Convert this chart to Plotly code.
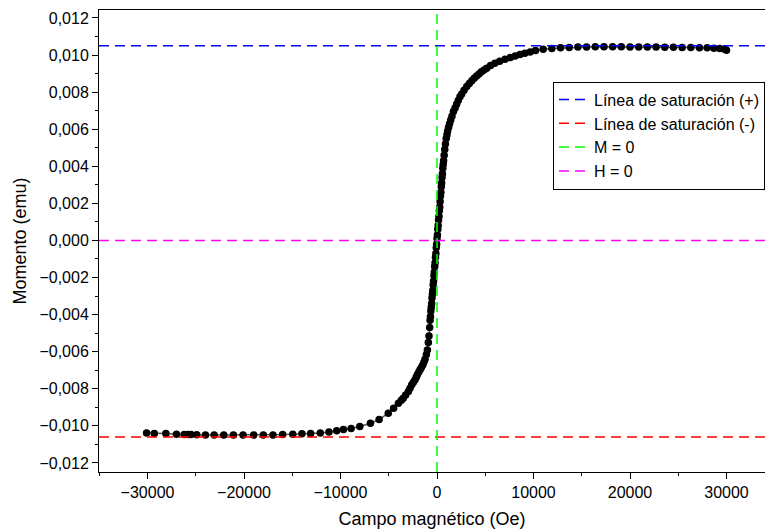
import plotly.graph_objects as go

# Magnetic field (Oe) and measured moment (emu)
campo = [
    -30100, -29300, -28100, -27000, -26200, -25800, -25500, -24900, -24000, -23100,
    -22100, -21100, -20100, -19000, -18000, -17000, -16000, -14950, -14000, -13100,
    -12100, -11200, -10400, -9700, -8900, -8000, -6900, -6000, -5050, -4500,
    -4000, -3700, -3500, -3250, -2970, -2800, -2620, -2450, -2280, -2150,
    -2040, -1900, -1760, -1620, -1480, -1360, -1240, -1100, -1000, -900,
    -830, -760,
    -720, -680, -640, -600, -560, -520, -480, -440, -400, -360,
    -320, -280, -240, -200, -160, -120, -80, -40, 0, 40,
    80, 120, 160, 200, 240, 280, 320, 360, 400, 440,
    480, 520, 560, 600, 640, 680,
    740, 800, 870, 950, 1030, 1100, 1200, 1300, 1420, 1550,
    1700, 1870, 2030, 2200, 2380, 2560, 2800, 3080, 3350, 3600,
    3850, 4100, 4350, 4600, 4870, 5150, 5550, 6000, 6500, 7050,
    7600, 8100, 8600, 9100, 9650, 10200, 11000, 11900, 12800, 13700,
    14600, 15500, 16400, 17300, 18200, 19100, 20000, 20900, 21800, 22700,
    23600, 24500, 25400, 26300, 27200, 28000, 28700, 29300, 29800, 30000,
]
momento = [
    -0.01038, -0.01041, -0.01042, -0.01045, -0.01047, -0.01047, -0.01047, -0.01048, -0.01050, -0.01050,
    -0.01050, -0.01050, -0.01050, -0.01050, -0.01050, -0.01049, -0.01047, -0.01045, -0.01043, -0.01041,
    -0.01038, -0.01033, -0.01027, -0.01020, -0.01014, -0.01004, -0.00986, -0.00966, -0.00932, -0.00905,
    -0.00878, -0.00862, -0.00851, -0.00833, -0.00815, -0.00797, -0.00779, -0.00765, -0.00752, -0.00738,
    -0.00725, -0.00711, -0.00698, -0.00685, -0.00672, -0.00657, -0.00641, -0.00615, -0.00591, -0.00550,
    -0.00515, -0.00470,
    -0.00430, -0.00410, -0.00380, -0.00360, -0.00340, -0.00310, -0.00290, -0.00270, -0.00240, -0.00220,
    -0.00190, -0.00170, -0.00140, -0.00120, -0.00090, -0.00070, -0.00040, -0.00020, 0.00010, 0.00030,
    0.00060, 0.00080, 0.00110, 0.00130, 0.00160, 0.00180, 0.00210, 0.00240, 0.00260, 0.00290,
    0.00310, 0.00340, 0.00360, 0.00390, 0.00410, 0.00430,
    0.00460, 0.00490, 0.00520, 0.00550, 0.00570, 0.00590, 0.00610, 0.00630, 0.00650, 0.00670,
    0.00695, 0.00715, 0.00735, 0.00755, 0.00775, 0.00790, 0.00810, 0.00830, 0.00847, 0.00862,
    0.00875, 0.00887, 0.00898, 0.00910, 0.00920, 0.00929, 0.00943, 0.00956, 0.00967, 0.00977,
    0.00987, 0.00995, 0.01003, 0.01010, 0.01017, 0.01024, 0.01031, 0.01036, 0.01039, 0.01041,
    0.01043, 0.01044, 0.01045, 0.01045, 0.01045, 0.01045, 0.01044, 0.01044, 0.01043, 0.01043,
    0.01042, 0.01042, 0.01041, 0.01041, 0.01040, 0.01039, 0.01037, 0.01035, 0.01031, 0.01026,
]

# Reference levels
saturacion_pos = 0.0105
saturacion_neg = -0.0106
nivel_cero = 0.0

# Axis extents
rango_x = [-35030, 33990]
rango_y = [-0.01249, 0.01243]

# Tick values and labels
ticks_x = [-30000, -20000, -10000, 0, 10000, 20000, 30000]
etiquetas_x = ["\u221230000", "\u221220000", "\u221210000", "0", "10000", "20000", "30000"]
ticks_y = [-0.012, -0.010, -0.008, -0.006, -0.004, -0.002, 0.0,
           0.002, 0.004, 0.006, 0.008, 0.010, 0.012]
etiquetas_y = ["\u22120,012", "\u22120,010", "\u22120,008", "\u22120,006", "\u22120,004",
               "\u22120,002", "0,000", "0,002", "0,004", "0,006", "0,008", "0,010", "0,012"]

DASH = "10px,6px"
FONT = "Liberation Sans, Arial, sans-serif"

fig = go.Figure()

fig.add_trace(go.Scatter(
    x=campo, y=momento, mode="lines+markers",
    line=dict(color="#555555", width=1.5),
    marker=dict(color="black", size=7.5),
    showlegend=False,
))

fig.add_trace(go.Scatter(
    x=rango_x, y=[saturacion_pos, saturacion_pos], mode="lines",
    line=dict(color="#0000ff", width=1.5, dash=DASH),
    name="Línea de saturación (+)",
))
fig.add_trace(go.Scatter(
    x=rango_x, y=[saturacion_neg, saturacion_neg], mode="lines",
    line=dict(color="#ff0000", width=1.5, dash=DASH),
    name="Línea de saturación (-)",
))
fig.add_trace(go.Scatter(
    x=[nivel_cero, nivel_cero], y=rango_y, mode="lines",
    line=dict(color="#00ff00", width=1.5, dash=DASH),
    name="M = 0",
))
fig.add_trace(go.Scatter(
    x=rango_x, y=[nivel_cero, nivel_cero], mode="lines",
    line=dict(color="#ff00ff", width=1.5, dash=DASH),
    name="H = 0",
))

fig.update_layout(
    width=765, height=531,
    margin=dict(l=99, r=0, t=10, b=59),
    paper_bgcolor="white", plot_bgcolor="white",
    font=dict(family=FONT, size=16, color="black"),
    legend=dict(
        x=0.682, y=0.845, xanchor="left", yanchor="top",
        bgcolor="white", bordercolor="black", borderwidth=1,
        font=dict(size=16), tracegroupgap=0,
    ),
    xaxis=dict(
        range=rango_x, showgrid=False, zeroline=False,
        showline=True, linecolor="black", linewidth=1, mirror=True,
        tickmode="array", tickvals=ticks_x, ticktext=etiquetas_x,
        ticks="outside", ticklen=6, tickcolor="black",
        minor=dict(dtick=5000, tick0=0, ticks="outside", ticklen=3, tickcolor="black"),
        title=dict(text="Campo magnético (Oe)", font=dict(size=18), standoff=12),
    ),
    yaxis=dict(
        range=rango_y, showgrid=False, zeroline=False,
        showline=True, linecolor="black", linewidth=1,
        tickmode="array", tickvals=ticks_y, ticktext=etiquetas_y,
        ticks="outside", ticklen=6, tickcolor="black",
        minor=dict(dtick=0.001, tick0=0, ticks="outside", ticklen=3, tickcolor="black"),
        title=dict(text="Momento (emu)", font=dict(size=18), standoff=8),
    ),
)

fig.write_html("out.html")
